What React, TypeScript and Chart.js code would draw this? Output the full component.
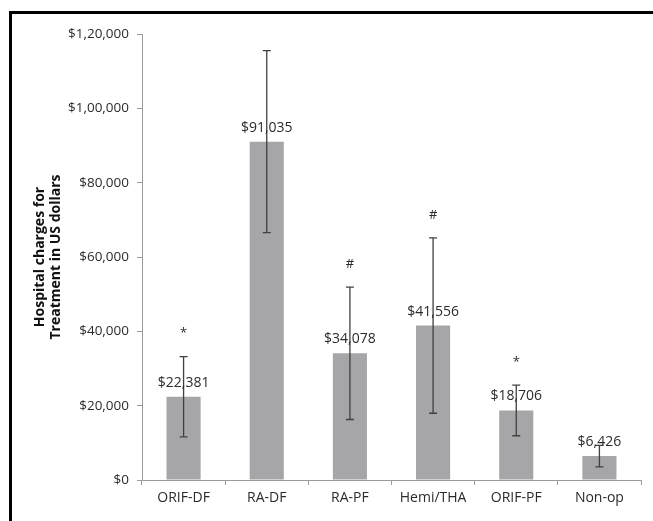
import React, { useEffect, useRef } from "react";
import { Chart, registerables } from "chart.js";

Chart.register(...registerables);

const categories = ["ORIF-DF", "RA-DF", "RA-PF", "Hemi/THA", "ORIF-PF", "Non-op"];
const charges = [22381, 91035, 34078, 41556, 18706, 6426];
const errorPlus = [10800, 24500, 17800, 23600, 6800, 2900];
const errorMinus = [10800, 24500, 17800, 23600, 6800, 2900];
const valueLabels = ["$22,381", "$91,035", "$34,078", "$41,556", "$18,706", "$6,426"];
const significance = ["*", "", "#", "#", "*", ""];
const yTickValues = [0, 20000, 40000, 60000, 80000, 100000, 120000];
const yTickLabels = ["$0", "$20,000", "$40,000", "$60,000", "$80,000", "$1,00,000", "$1,20,000"];
const yTitleLines = ["Hospital charges for", "Treatment in US dollars"];

const FONT = "'Open Sans', 'Noto Sans', sans-serif";
const TEXT = "#2b2b2b";

const decorPlugin = {
  id: "decor",
  beforeDraw(chart: any) {
    const ctx = chart.ctx;
    ctx.save();
    ctx.fillStyle = "#ffffff";
    ctx.fillRect(0, 0, chart.width, chart.height);
    ctx.fillStyle = "#000000";
    ctx.fillRect(9, 11, chart.width - 9, 3);
    ctx.fillRect(9, 11, 3, chart.height - 11);
    ctx.restore();
  },
  afterDatasetsDraw(chart: any) {
    const ctx = chart.ctx;
    const meta = chart.getDatasetMeta(0);
    const y = chart.scales.y;
    ctx.save();
    meta.data.forEach((bar: any, i: number) => {
      const x = bar.x;
      const v = charges[i];
      const yTop = y.getPixelForValue(v + errorPlus[i]);
      const yBot = y.getPixelForValue(v - errorMinus[i]);
      ctx.strokeStyle = "#404040";
      ctx.lineWidth = 1.3;
      ctx.beginPath();
      ctx.moveTo(x, yTop);
      ctx.lineTo(x, yBot);
      ctx.moveTo(x - 4, yTop);
      ctx.lineTo(x + 4, yTop);
      ctx.moveTo(x - 4, yBot);
      ctx.lineTo(x + 4, yBot);
      ctx.stroke();
    });
    ctx.fillStyle = TEXT;
    ctx.textAlign = "center";
    ctx.textBaseline = "middle";
    meta.data.forEach((bar: any, i: number) => {
      ctx.font = `14px ${FONT}`;
      ctx.fillText(valueLabels[i], bar.x, bar.y - 14);
      if (significance[i]) {
        const yTop = y.getPixelForValue(charges[i] + errorPlus[i]);
        ctx.font = `13px ${FONT}`;
        ctx.fillText(significance[i], bar.x, yTop - 23);
      }
    });
    // y axis title
    const cy = (chart.chartArea.top + chart.chartArea.bottom) / 2;
    ctx.font = `bold 14px ${FONT}`;
    ctx.fillStyle = "#111111";
    yTitleLines.forEach((line, k) => {
      ctx.save();
      ctx.translate(40 + k * 16, cy);
      ctx.rotate(-Math.PI / 2);
      ctx.fillText(line, 0, 0);
      ctx.restore();
    });
    ctx.restore();
  },
};

export default function App() {
  const ref = useRef<HTMLCanvasElement | null>(null);
  useEffect(() => {
    if (!ref.current) return;
    const chart = new Chart(ref.current, {
      type: "bar",
      data: {
        labels: categories,
        datasets: [
          {
            data: charges,
            backgroundColor: "#a6a6a8",
            borderWidth: 0,
            barPercentage: 0.41,
            categoryPercentage: 1,
          },
        ],
      },
      options: {
        animation: false,
        responsive: false,
        maintainAspectRatio: false,
        layout: { padding: { left: 0, right: 12, top: 34, bottom: 0 } },
        plugins: { legend: { display: false }, tooltip: { enabled: false }, title: { display: false } },
        scales: {
          x: {
            offset: true,
            border: { display: true, color: "#9a9a9a", width: 1 },
            grid: { display: true, drawOnChartArea: false, drawTicks: true, tickLength: 5, color: "#9a9a9a", offset: true },
            ticks: { color: TEXT, font: { family: FONT, size: 14 }, padding: 5, maxRotation: 0 },
            afterFit(scale: any) {
              scale.height = 41;
            },
          },
          y: {
            min: 0,
            max: 120000,
            border: { display: true, color: "#9a9a9a", width: 1 },
            grid: { display: true, drawOnChartArea: false, drawTicks: true, tickLength: 5, color: "#9a9a9a" },
            afterBuildTicks(scale: any) {
              scale.ticks = yTickValues.map((v) => ({ value: v }));
            },
            ticks: {
              color: TEXT,
              font: { family: FONT, size: 13.5 },
              padding: 8,
              callback: (value: any) => {
                const idx = yTickValues.indexOf(Number(value));
                return idx >= 0 ? yTickLabels[idx] : "";
              },
            },
            afterFit(scale: any) {
              scale.width = 142;
            },
          },
        },
      },
      plugins: [decorPlugin],
    } as any);
    return () => chart.destroy();
  }, []);
  return (
    <div style={{ position: "absolute", left: 0, top: 0, width: 653, height: 521 }}>
      <canvas ref={ref} width={653} height={521} style={{ display: "block" }} />
    </div>
  );
}
